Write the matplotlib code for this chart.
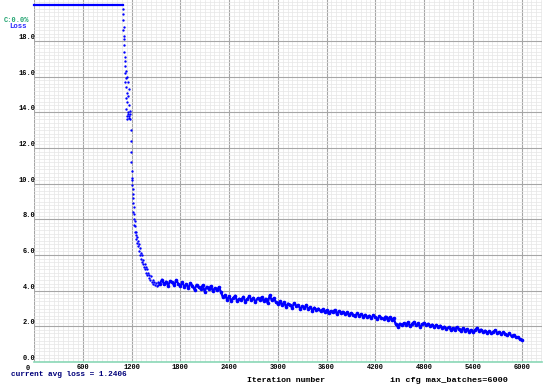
import numpy as np
import matplotlib
matplotlib.use("Agg")
import matplotlib.pyplot as plt
import matplotlib.transforms as mtransforms
from matplotlib.ticker import MultipleLocator

# --- data ---
max_loss = 20.0
clip_iters = [0, 1100]                     # loss clipped at the top of the chart
clip_loss = [max_loss, max_loss]

# steep drop, scattered dots
drop_iters = [1090, 1095, 1098, 1100, 1103, 1106, 1108, 1110, 1113, 1115, 1118,
              1120, 1123, 1125, 1128, 1130, 1133, 1135, 1138, 1140, 1143, 1145,
              1148, 1150, 1153, 1155, 1158, 1160, 1163, 1166, 1170, 1173, 1176,
              1180, 1184,
              1188, 1192, 1195, 1198, 1202, 1205,
              1208, 1210, 1213, 1216, 1218, 1221, 1224, 1227, 1230, 1233, 1236,
              1240, 1244, 1248, 1252, 1256, 1260, 1265, 1270, 1275,
              1280, 1287, 1294, 1300, 1307, 1314, 1320, 1327, 1334, 1340, 1347,
              1354, 1360, 1367, 1374, 1380, 1387, 1394, 1400, 1410, 1420, 1430,
              1440, 1450, 1460, 1470, 1480, 1490, 1500, 1510, 1520, 1530, 1540]
drop_loss = [19.8, 19.2, 18.6, 19.5, 18.1, 17.4, 18.8, 17.8, 18.3, 17.1, 16.6,
             16.2, 15.7, 16.9, 14.8, 15.9, 16.3, 14.2, 15.4, 13.8, 16.0, 14.6,
             15.1, 13.6, 15.7, 14.0, 13.9, 14.9, 13.7, 15.3, 14.4, 13.8, 14.1,
             13.6, 13.9,
             13.0, 12.4, 11.8, 11.2, 10.7, 10.3,
             9.9, 10.2, 9.4, 9.7, 8.9, 9.2, 8.4, 8.7, 8.0, 8.3, 7.7,
             7.9, 7.3, 7.6, 7.1, 7.3, 6.9, 7.0, 6.7, 6.8,
             6.5, 6.6, 6.2, 6.4, 6.0, 6.1, 5.8, 6.0, 5.6, 5.7, 5.5,
             5.3, 5.5, 5.2, 5.3, 5.0, 5.2, 4.9, 5.0, 4.7, 4.9, 4.6,
             4.8, 4.5, 4.6, 4.35, 4.5, 4.3, 4.45, 4.25, 4.5, 4.3, 4.45]

# slow decay, one value every 25 iterations from 1550 to 6000
tail_iters = np.arange(1550, 6001, 25)
tail_loss = [
    4.40, 4.62, 4.35, 4.51, 4.28, 4.55, 4.47, 4.30, 4.60, 4.38,
    4.25, 4.48, 4.20, 4.36, 4.15, 4.42, 4.28, 4.05, 4.33, 4.18,
    4.10, 4.30, 3.95, 4.22, 4.08, 4.26, 3.98, 4.15, 4.02, 4.20,
    3.92, 3.62, 3.75, 3.50, 3.68, 3.44, 3.58, 3.72, 3.40, 3.55,
    3.48, 3.66, 3.38, 3.52, 3.70, 3.45, 3.60, 3.35, 3.57, 3.49,
    3.63, 3.42, 3.55, 3.30, 3.74, 3.46, 3.58, 3.36, 3.25, 3.40,
    3.18, 3.35, 3.10, 3.28, 3.22, 3.05, 3.30, 3.15, 3.20, 2.98,
    3.12, 3.02, 3.20, 2.95, 3.08, 2.88, 3.05, 2.92, 3.00, 2.85,
    2.95, 2.80, 2.90, 2.72, 2.86, 2.78, 2.92, 2.70, 2.84, 2.76,
    2.82, 2.68, 2.78, 2.62, 2.75, 2.66, 2.58, 2.72, 2.60, 2.68,
    2.55, 2.65, 2.50, 2.60, 2.45, 2.62, 2.52, 2.40, 2.56, 2.48,
    2.42, 2.55, 2.38, 2.50, 2.35, 2.46, 2.12, 1.98, 2.15, 2.05,
    2.18, 2.08, 2.22, 2.00, 2.14, 2.25, 2.05, 2.16, 1.96, 2.12,
    2.20, 2.06, 2.15, 2.02, 2.10, 1.95, 2.08, 1.98, 2.04, 1.90,
    1.98, 1.86, 1.94, 1.82, 1.90, 1.78, 1.96, 1.84, 1.72, 1.88,
    1.76, 1.85, 1.70, 1.80, 1.66, 1.78, 1.92, 1.74, 1.82, 1.68,
    1.76, 1.64, 1.72, 1.60, 1.70, 1.78, 1.62, 1.68, 1.56, 1.66,
    1.58, 1.50, 1.60, 1.45, 1.52, 1.40, 1.38, 1.30, 1.24,
]

x_ticks = [0, 600, 1200, 1800, 2400, 3000, 3600, 4200, 4800, 5400, 6000]
y_ticks = [0, 2, 4, 6, 8, 10, 12, 14, 16, 18]

mono = "Liberation Mono"
blue = "#0000ff"

# %%
fig = plt.figure(figsize=(5.5, 3.86), dpi=100)
ax = fig.add_axes([34 / 550, 24 / 386, 508 / 550, 362 / 386])
ax.set_xlim(0, 6250)
ax.set_ylim(0, 20.3)

# grid like the darknet chart
ax.xaxis.set_minor_locator(MultipleLocator(60))
ax.yaxis.set_minor_locator(MultipleLocator(0.2))
ax.grid(which="minor", color="#e6e6e6", linewidth=0.5)
ax.grid(which="major", color="#a6a6a6", linewidth=0.8)
ax.set_axisbelow(True)
for s in ax.spines.values():
    s.set_visible(False)
ax.axhline(0, color="#8ad8b6", linewidth=1.2, clip_on=False)

ax.plot(clip_iters, clip_loss, color=blue, linewidth=1.6, clip_on=False)
ax.plot(drop_iters, drop_loss, "o", color=blue, markersize=1.7, markeredgewidth=0)
ax.plot(tail_iters, tail_loss, "-o", color=blue, linewidth=1.6,
        markersize=2.6, markeredgewidth=0)

ax.set_xticks(x_ticks)
ax.set_xticklabels([str(v) for v in x_ticks], fontfamily=mono,
                   fontweight="bold", fontsize=5)
ax.set_yticks(y_ticks)
ax.set_yticklabels([f"{v:.1f}" for v in y_ticks], fontfamily=mono,
                   fontweight="bold", fontsize=5, va="bottom")
ax.tick_params(axis="x", which="both", length=0, pad=1.2)
ax.tick_params(axis="y", which="both", length=0, pad=-1)
# the "0" label sits left of its tick in the original
first = ax.get_xticklabels()[0]
first.set_transform(first.get_transform() +
                    mtransforms.ScaledTranslation(-6 / 100, -1 / 100, fig.dpi_scale_trans))

fig.text(4 / 550, 1 - 20 / 386, "C:0.0%", color="#1fa36f", fontfamily=mono,
         fontweight="bold", fontsize=5, va="center")
fig.text(9 / 550, 1 - 27 / 386, "Loss", color="#2a2aff", fontfamily=mono,
         fontweight="bold", fontsize=5.2, va="center")
fig.text(11 / 550, 1 - 374.5 / 386, "current avg loss = 1.2406", color="#00007a",
         fontfamily=mono, fontweight="bold", fontsize=5.6, va="center")
fig.text(247 / 550, 1 - 380.5 / 386, "Iteration number", color="black",
         fontfamily=mono, fontweight="bold", fontsize=5.9, va="center")
fig.text(390 / 550, 1 - 380.5 / 386, "in cfg max_batches=6000", color="black",
         fontfamily=mono, fontweight="bold", fontsize=6.1, va="center")

fig.savefig("out.png", dpi=100)
